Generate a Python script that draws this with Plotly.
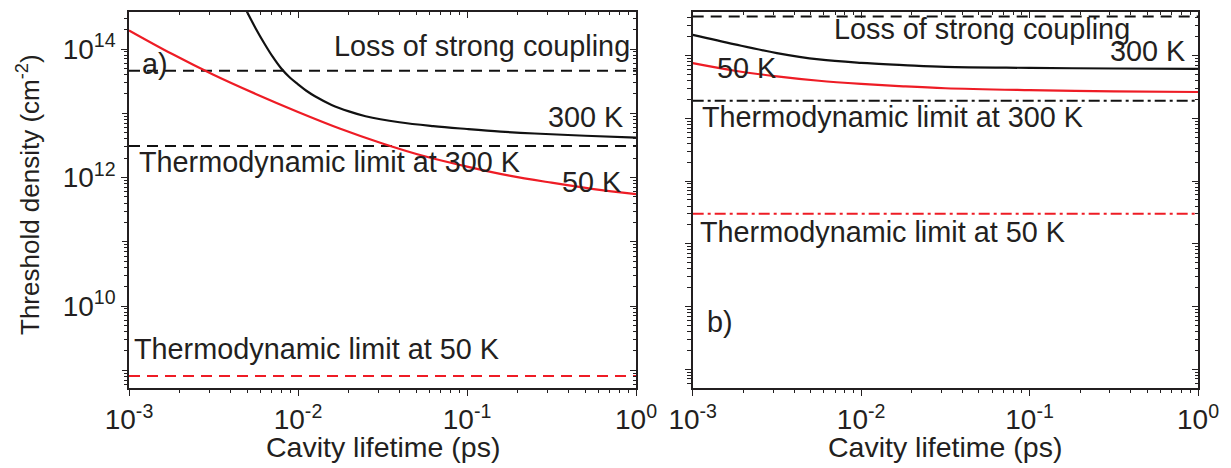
import plotly.graph_objects as go

# ---------------- data ----------------
# panel a)
tau_a_50K = [0.001, 0.00178, 0.00316, 0.00562, 0.01, 0.0178, 0.0316, 0.0562, 0.1, 0.178, 0.316, 0.562, 1.0]
n_a_50K = [1.95e14, 8.5e13, 3.98e13, 2.0e13, 1.05e13, 5.75e12, 3.39e12, 2.14e12, 1.48e12, 1.07e12, 8.3e11, 6.6e11, 5.5e11]
tau_a_300K = [0.00457, 0.00501, 0.00562, 0.00631, 0.00708, 0.00794, 0.00891, 0.01, 0.0112, 0.0126,
              0.0158, 0.02, 0.0251, 0.0398, 0.0631, 0.1, 0.158, 0.251, 0.501, 1.0]
n_a_300K = [6.03e14, 3.72e14, 2.09e14, 1.23e14, 7.59e13, 5.01e13, 3.63e13, 2.82e13, 2.24e13, 1.84e13,
            1.35e13, 1.07e13, 9.0e12, 7.24e12, 6.31e12, 5.69e12, 5.19e12, 4.84e12, 4.47e12, 4.17e12]
a_loss = 4.6e13
a_thermo_300K = 3.1e12
a_thermo_50K = 8.15e8

# panel b)
tau_b = [0.001, 0.00178, 0.00316, 0.00562, 0.01, 0.0178, 0.0316, 0.1, 0.316, 1.0]
n_b_300K = [2.14e13, 1.51e13, 1.10e13, 8.7e12, 7.67e12, 7.08e12, 6.61e12, 6.38e12, 6.24e12, 6.17e12]
n_b_50K = [7.59e12, 5.75e12, 4.68e12, 3.98e12, 3.55e12, 3.24e12, 3.02e12, 2.82e12, 2.69e12, 2.63e12]
b_loss = 4.2e13
b_thermo_300K = 1.9e12
b_thermo_50K = 3.0e10

tau_span = [0.001, 1.0]

x_tickvals = [0.001, 0.01, 0.1, 1.0]
x_ticktext = ["10<sup>-3</sup>", "10<sup>-2</sup>", "10<sup>-1</sup>", "10<sup>0</sup>"]
ya_label_vals = [1e10, 1e12, 1e14]
ya_label_text = ["10<sup>10</sup>", "10<sup>12</sup>", "10<sup>14</sup>"]
ya_odd_vals = [1e9, 1e11, 1e13]
ya_all_vals = [1e9, 1e10, 1e11, 1e12, 1e13, 1e14]
yb_tickvals = [1e8, 1e9, 1e10, 1e11, 1e12, 1e13]

x_title = "Cavity lifetime (ps)"
y_title = "Threshold density (cm<sup>-2</sup>)"

# ---------------- style ----------------
FONT = "Liberation Sans, Arial, sans-serif"
TXT = "#231f20"
AX = "#231f20"
RED = "#ee1c25"
BLK = "#111111"
DASH = "11px,7px"
DASHDOT = "11px,4px,3px,4px"

fig = go.Figure()

def line(x, y, color, xa, ya, dash=None, shape="spline", width=2.2):
    fig.add_trace(go.Scatter(x=x, y=y, mode="lines", xaxis=xa, yaxis=ya,
                             line=dict(color=color, width=width, dash=dash, shape=shape),
                             showlegend=False, hoverinfo="skip"))

# panel a
line(tau_span, [a_loss, a_loss], BLK, "x", "y", dash=DASH, shape="linear", width=2)
line(tau_span, [a_thermo_300K, a_thermo_300K], BLK, "x", "y", dash=DASH, shape="linear", width=2)
line(tau_span, [a_thermo_50K, a_thermo_50K], RED, "x", "y", dash=DASH, shape="linear", width=2)
line(tau_a_300K, n_a_300K, BLK, "x", "y")
line(tau_a_50K, n_a_50K, RED, "x", "y")

# panel b
line(tau_span, [b_loss, b_loss], BLK, "x2", "y2", dash=DASH, shape="linear", width=2)
line(tau_span, [b_thermo_300K, b_thermo_300K], BLK, "x2", "y2", dash=DASHDOT, shape="linear", width=2)
line(tau_span, [b_thermo_50K, b_thermo_50K], RED, "x2", "y2", dash=DASHDOT, shape="linear", width=2)
line(tau_b, n_b_300K, BLK, "x2", "y2")
line(tau_b, n_b_50K, RED, "x2", "y2")

# empty helper traces so that the mirrored frame axes are always instantiated
for xa, ya in [("x3", "y"), ("x", "y3"), ("x", "y5"), ("x4", "y2"), ("x2", "y4")]:
    fig.add_trace(go.Scatter(x=[], y=[], xaxis=xa, yaxis=ya, mode="lines",
                             showlegend=False, hoverinfo="skip"))

tickfont = dict(family=FONT, size=28, color=TXT)

def axis(inside=False, minor=True, **kw):
    d = dict(type="log", showline=True, linecolor=AX, linewidth=1.6,
             ticks="inside" if inside else "outside", ticklen=6, tickwidth=1.3,
             tickcolor=AX, showgrid=False, zeroline=False,
             tickfont=tickfont, tickmode="array")
    if minor:
        d["minor"] = dict(ticks="inside" if inside else "outside", ticklen=3.5,
                          tickwidth=1, tickcolor=AX, dtick="D1", showgrid=False)
    d.update(kw)
    return d

XA = [0.0, 0.4743]
XB = [0.5273, 1.0]
RA = [8.724, 14.576]
RB = [7.70, 13.696]
RX = [-3, 0]

fig.update_layout(
    width=1231, height=468,
    margin=dict(l=129, r=33, t=12, b=80),
    paper_bgcolor="white", plot_bgcolor="white",
    showlegend=False,
    xaxis=axis(domain=XA, anchor="y", range=RX, tickvals=x_tickvals, ticktext=x_ticktext),
    yaxis=axis(domain=[0, 1], anchor="x", range=RA, tickvals=ya_label_vals, ticktext=ya_label_text),
    xaxis2=axis(domain=XB, anchor="y2", range=RX, tickvals=x_tickvals, ticktext=x_ticktext),
    yaxis2=axis(domain=[0, 1], anchor="x2", range=RB, tickvals=yb_tickvals, showticklabels=False),
    # mirrored frames with inward ticks
    xaxis3=axis(inside=True, overlaying="x", anchor="y", side="top", range=RX,
                tickvals=x_tickvals, showticklabels=False),
    yaxis3=axis(inside=True, overlaying="y", anchor="x", side="right", range=RA,
                tickvals=ya_all_vals, showticklabels=False),
    xaxis4=axis(inside=True, overlaying="x2", anchor="y2", side="top", range=RX,
                tickvals=x_tickvals, showticklabels=False),
    yaxis4=axis(inside=True, overlaying="y2", anchor="x2", side="right", range=RB,
                tickvals=yb_tickvals, showticklabels=False),
    # unlabeled major ticks at odd decades on the left axis of panel a
    yaxis5=axis(minor=False, overlaying="y", anchor="x", side="left", range=RA,
                tickvals=ya_odd_vals, showticklabels=False, showline=False),
)

afont = dict(family=FONT, size=28.8, color=TXT)

def note(text, x, y, xa, ya, xanchor="left"):
    fig.add_annotation(text=text, x=x, y=y, xref=xa, yref=ya, xanchor=xanchor,
                       yanchor="middle", showarrow=False, font=afont)

# panel a labels (positions in log10 units)
note("a)", -2.935, 13.767, "x", "y")
note("Loss of strong coupling", -1.80, 14.04, "x", "y")
note("300 K", -0.065, 12.942, "x", "y", xanchor="right")
note("Thermodynamic limit at 300 K", -2.953, 12.241, "x", "y")
note("50 K", -0.077, 11.93, "x", "y", xanchor="right")
note("Thermodynamic limit at 50 K", -2.982, 9.331, "x", "y")

# panel b labels
note("Loss of strong coupling", -2.172, 13.425, "x2", "y2")
note("300 K", -0.065, 13.075, "x2", "y2", xanchor="right")
note("50 K", -2.868, 12.804, "x2", "y2")
note("Thermodynamic limit at 300 K", -2.957, 12.016, "x2", "y2")
note("Thermodynamic limit at 50 K", -2.969, 10.193, "x2", "y2")
note("b)", -2.927, 8.76, "x2", "y2")

# axis titles
title_y = 1 - (447 - 12) / 376
for dom in (XA, XB):
    fig.add_annotation(text=x_title, x=(dom[0] + dom[1]) / 2, y=title_y,
                       xref="paper", yref="paper", xanchor="center", yanchor="middle",
                       showarrow=False, font=dict(family=FONT, size=28.5, color=TXT))

fig.add_annotation(text=y_title, textangle=-90,
                   x=(28 - 129) / 1069, y=1 - (195 - 12) / 376, xref="paper", yref="paper",
                   xanchor="center", yanchor="middle", showarrow=False,
                   font=dict(family=FONT, size=26, color=TXT))

fig.write_html("out.html")
